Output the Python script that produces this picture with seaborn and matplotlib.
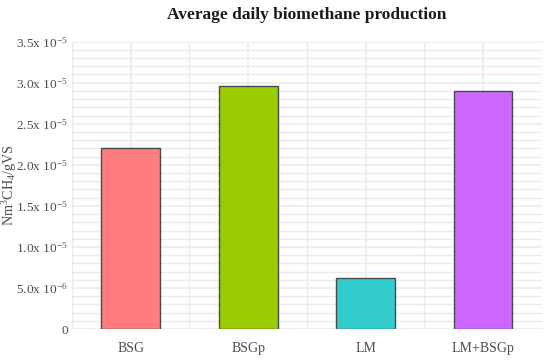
import matplotlib
matplotlib.use("Agg")
import matplotlib.pyplot as plt
import seaborn as sns
import pandas as pd
from matplotlib.ticker import MultipleLocator, FixedLocator

categories = ["BSG", "BSGp", "LM", "LM+BSGp"]
values = [2.21e-5, 2.96e-5, 6.2e-6, 2.90e-5]
colors = ["#FF7C80", "#99CC00", "#33CCCC", "#CC66FF"]
ytick_vals = [0, 5e-6, 1.0e-5, 1.5e-5, 2.0e-5, 2.5e-5, 3.0e-5, 3.5e-5]
ytick_labels = ["0", "5.0x 10$^{-6}$", "1.0x 10$^{-5}$", "1.5x 10$^{-5}$",
                "2.0x 10$^{-5}$", "2.5x 10$^{-5}$", "3.0x 10$^{-5}$", "3.5x 10$^{-5}$"]

sns.set_theme(style="white")
plt.rcParams['font.family'] = ['Liberation Serif', 'DejaVu Serif']
plt.rcParams['mathtext.fontset'] = 'custom'
plt.rcParams['mathtext.rm'] = 'Liberation Serif'
plt.rcParams['mathtext.it'] = 'Liberation Serif'

df = pd.DataFrame({"cat": categories, "val": values})

fig = plt.figure(figsize=(5.5, 3.62), dpi=100)
ax = fig.add_axes([0.131, 0.091, 0.854, 0.794])

sns.barplot(data=df, x="cat", y="val", hue="cat", palette=colors, width=0.5,
            saturation=1, edgecolor="#4a4a4a", linewidth=1.0, legend=False,
            ax=ax, zorder=3)

ax.set_xlim(-0.5, 3.5)
ax.set_ylim(0, 3.5e-5)
ax.yaxis.set_major_locator(FixedLocator(ytick_vals))
ax.set_yticklabels(ytick_labels)
ax.yaxis.set_minor_locator(MultipleLocator(1e-6))
ax.xaxis.set_minor_locator(FixedLocator([-0.5, 0.5, 1.5, 2.5, 3.5]))
ax.grid(True, which="major", color="#EBEBEB", linewidth=1.2, zorder=0)
ax.grid(True, which="minor", color="#EBEBEB", linewidth=1.0, zorder=0)
ax.set_axisbelow(True)
for s in ax.spines.values():
    s.set_visible(False)
ax.tick_params(axis="both", which="both", length=0, labelsize=10, colors="#4D4D4D")
ax.tick_params(axis="y", labelsize=9.6, pad=3)
ax.tick_params(axis="x", pad=9)
ax.set_xlabel("")
ax.set_ylabel("Nm$^3$CH$_4$/gVS", fontsize=10.2, color="#4D4D4D")
ax.yaxis.set_label_coords(-0.112, 0.5)
ax.set_title("Average daily biomethane production", fontsize=12.5, fontweight="bold",
             color="#1a1a1a", pad=16)

fig.savefig("out.png", dpi=100)
